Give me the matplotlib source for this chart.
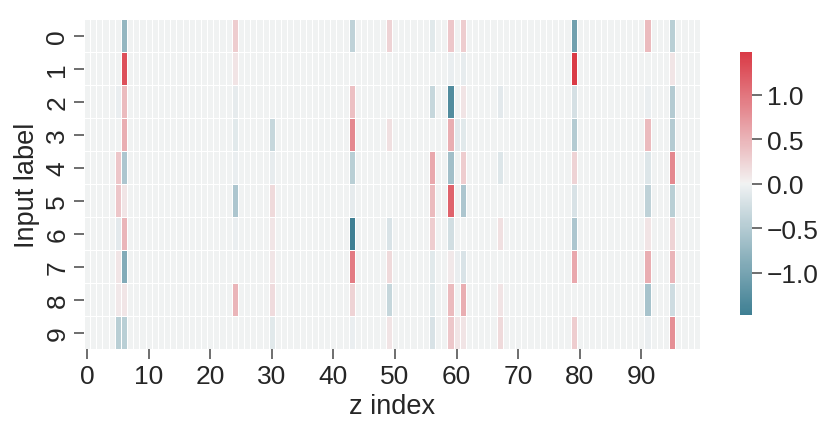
import numpy as np
import matplotlib
matplotlib.use("Agg")
import matplotlib.pyplot as plt
from matplotlib.ticker import MultipleLocator, FuncFormatter
import seaborn as sns

# only a handful of latent dimensions carry visible weight; everything else is ~0
n_labels = 10
n_z = 100
active_cols = [5, 6, 24, 30, 43, 49, 56, 59, 60, 61, 67, 79, 91, 95]

# one row per input label, values for active_cols in order
row0 = [0.0, -0.75, 0.30, 0.0, -0.40, 0.25, -0.12, 0.35, 0.0, 0.30, 0.0, -1.05, 0.45, -0.45]
row1 = [0.0, 1.30, 0.12, 0.0, 0.0, 0.0, 0.0, -0.05, 0.0, -0.07, 0.0, 1.48, 0.0, 0.10]
row2 = [-0.05, 0.45, -0.08, 0.0, 0.40, 0.0, -0.35, -1.30, 0.0, 0.12, -0.10, -0.22, -0.05, -0.50]
row3 = [0.0, 0.55, -0.12, -0.35, 0.85, 0.15, 0.0, 0.55, -0.10, -0.12, 0.0, -0.50, 0.45, -0.50]
row4 = [0.35, -0.55, -0.05, -0.07, -0.45, 0.0, 0.60, -0.65, 0.0, 0.30, -0.15, 0.25, -0.15, 0.85]
row5 = [0.35, 0.10, -0.55, 0.20, -0.08, 0.0, 0.45, 1.15, 0.0, -0.55, 0.0, -0.20, -0.40, -0.45]
row6 = [-0.10, 0.50, -0.05, 0.10, -1.47, -0.18, 0.30, -0.25, 0.0, 0.0, 0.15, -0.55, 0.12, 0.25]
row7 = [0.10, -0.90, 0.0, 0.10, 0.95, 0.20, -0.12, 0.08, -0.05, -0.18, 0.0, 0.60, 0.55, 0.50]
row8 = [0.08, 0.10, 0.50, 0.18, 0.25, -0.35, -0.12, 0.45, 0.0, 0.55, 0.12, 0.0, -0.60, -0.28]
row9 = [-0.45, -0.45, 0.0, -0.12, -0.05, 0.12, -0.20, 0.35, 0.10, 0.12, 0.20, 0.30, -0.05, 0.80]

rows = [row0, row1, row2, row3, row4, row5, row6, row7, row8, row9]
z = np.zeros((n_labels, n_z))
for i, r in enumerate(rows):
    z[i, active_cols] = r

sns.set_theme(style="ticks", context="talk")
plt.rcParams["font.family"] = ["Liberation Sans", "DejaVu Sans"]

fig = plt.figure(figsize=(8.3, 4.35), dpi=100)
ax = fig.add_axes([0.1012, 0.1954, 0.742, 0.7586])
cax = fig.add_axes([0.8916, 0.2743, 0.0145, 0.6032])

cmap = sns.diverging_palette(220, 10, as_cmap=True)
sns.heatmap(z, ax=ax, cbar_ax=cax, cmap=cmap, center=0,
            linewidths=0.5, linecolor="white", xticklabels=10)

ax.set_xlabel("z index", fontsize=19.5, labelpad=4)
ax.set_ylabel("Input label", fontsize=19.5, labelpad=4)
ax.tick_params(axis="both", labelsize=19, length=7, width=1.2, color="#555555")
plt.setp(ax.get_xticklabels(), rotation=0)
plt.setp(ax.get_yticklabels(), rotation=90, va="center")

cax.yaxis.set_major_locator(MultipleLocator(0.5))
cax.yaxis.set_major_formatter(FuncFormatter(lambda v, p: f"{v:.1f}".replace("-", "\u2212")))
cax.tick_params(labelsize=19, length=7, width=1.2, color="#555555")

fig.savefig("out.png", dpi=100)
